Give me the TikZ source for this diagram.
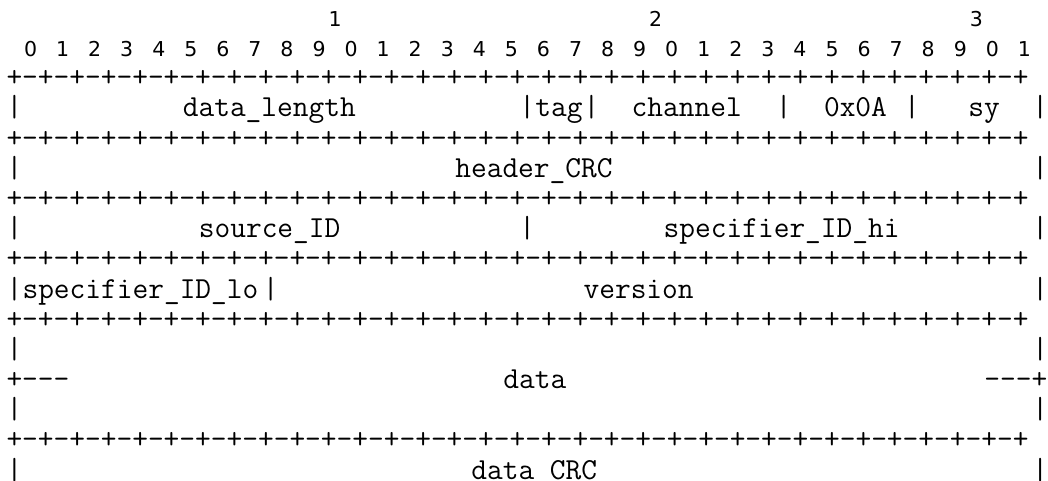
\documentclass[tikz,border=0pt]{standalone}
\usepackage{fontspec}
\setmonofont{Latin Modern Mono}
\newfontfamily\digitfont{DejaVu Sans}
\newcommand\cw{16.03}
\newcommand\dsh{-\kern0pt}
\tikzset{
  tt/.style={inner sep=0pt, outer sep=0pt, anchor=base west, font=\fontsize{30.53}{32}\ttfamily},
  dg/.style={inner sep=0pt, outer sep=0pt, anchor=base, font=\fontsize{20.5}{22}\digitfont}
}
% text piece at column #2, row #3
\newcommand\seg[4]{\node[tt] (#1) at ({6.5+#2*\cw},{-(117+(#3-4)*30.17)}) {#4};}
\newcommand\rulerow[2]{\node[tt] (#1) at (6.5,{-(117+(#2-4)*30.17)}) {+-+-+-+-+-+-+-+-+-+-+-+-+-+-+-+-+-+-+-+-+-+-+-+-+-+-+-+-+-+-+-+-+};}
\begin{document}
\begin{tikzpicture}[x=1pt,y=1pt]
\useasboundingbox (0,0) rectangle (1048,-481);
% ruler: decade labels
\foreach \d/\c in {1/20,2/40,3/60}
  \node[dg] (dec\d) at ({14.5+\c*\cw},-26.5) {\d};
% ruler: bit digits
\foreach \k in {0,...,31}{
  \pgfmathtruncatemacro\dig{mod(\k,10)}
  \node[dg] (bit\k) at ({14.5+(2*\k+1)*\cw},-56.7) {\dig};
}
\rulerow{r3}{3}
\seg{a0}{0}{4}{|}
\seg{dl}{11}{4}{data\_length}
\seg{a1}{32}{4}{|}
\seg{tag}{33}{4}{tag}
\seg{a2}{36}{4}{|}
\seg{ch}{39}{4}{channel}
\seg{a3}{48}{4}{|}
\seg{ox}{51}{4}{0x0A}
\seg{a4}{56}{4}{|}
\seg{sy}{60}{4}{sy}
\seg{a5}{64}{4}{|}
\rulerow{r5}{5}
\seg{b0}{0}{6}{|}
\seg{hc}{28}{6}{header\_CRC}
\seg{b1}{64}{6}{|}
\rulerow{r7}{7}
\seg{c0}{0}{8}{|}
\seg{sid}{12}{8}{source\_ID}
\seg{c1}{32}{8}{|}
\seg{shi}{41}{8}{specifier\_ID\_hi}
\seg{c2}{64}{8}{|}
\rulerow{r9}{9}
\seg{d0}{0}{10}{|}
\seg{slo}{1}{10}{specifier\_ID\_lo}
\seg{d1}{16}{10}{|}
\seg{ver}{36}{10}{version}
\seg{d2}{64}{10}{|}
\rulerow{r11}{11}
\seg{e0}{0}{12}{|}
\seg{e1}{64}{12}{|}
\seg{f0}{0}{13}{+\dsh\dsh-}
\seg{dat}{31}{13}{data}
\seg{f1}{61}{13}{\dsh\dsh-+}
\seg{g0}{0}{14}{|}
\seg{g1}{64}{14}{|}
\rulerow{r15}{15}
\seg{h0}{0}{16}{|}
\seg{dcrc}{29}{16}{data CRC}
\seg{h1}{64}{16}{|}
\end{tikzpicture}
\end{document}
